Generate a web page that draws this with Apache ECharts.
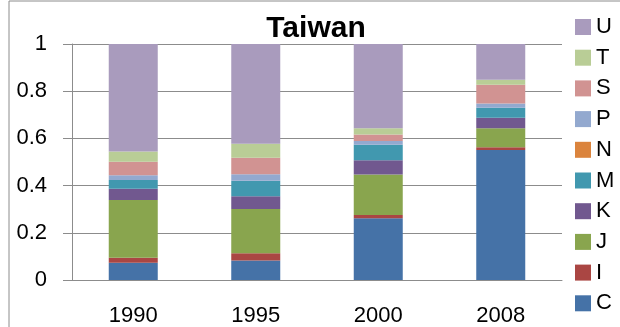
<!DOCTYPE html>
<html>
<head>
<meta charset="utf-8">
<script src="https://cdn.jsdelivr.net/npm/echarts@6/dist/echarts.min.js"></script>
<style>
  html, body { margin: 0; padding: 0; background: #fff; }
  #chart { width: 620px; height: 327px; }
</style>
</head>
<body>
<div id="chart"></div>
<script>
(function () {

    var years = ['1990', '1995', '2000', '2008'];

    // stacked shares, bottom to top
    var C = [0.073, 0.083, 0.262, 0.551];
    var I = [0.021, 0.030, 0.013, 0.011];
    var J = [0.245, 0.188, 0.172, 0.081];
    var K = [0.048, 0.054, 0.060, 0.044];
    var M = [0.037, 0.066, 0.066, 0.043];
    var N = [0, 0, 0, 0];
    var P = [0.020, 0.027, 0.016, 0.018];
    var S = [0.057, 0.070, 0.027, 0.079];
    var T = [0.044, 0.059, 0.027, 0.022];
    var U = [0.455, 0.423, 0.357, 0.151];

    var yTicks = [0, 0.2, 0.4, 0.6, 0.8, 1];

    var names = ['C', 'I', 'J', 'K', 'M', 'N', 'P', 'S', 'T', 'U'];
    var values = [C, I, J, K, M, N, P, S, T, U];
    var colors = ['#4572A7', '#AA4643', '#89A54E', '#71588F', '#4198AF',
        '#DB843D', '#93A9CF', '#D19392', '#B9CD96', '#A99BBD'];

    var font = 'Liberation Sans, Arial, sans-serif';
    var axisGray = '#8c8c8c';

    var series = names.map(function (name, i) {
        return {
            name: name,
            type: 'bar',
            stack: 'all',
            barWidth: '40%',
            data: values[i],
            itemStyle: { color: colors[i] }
        };
    });

    var myChart = echarts.init(document.getElementById('chart'));
    myChart.setOption({
        animation: false,
        title: {
            text: 'Taiwan',
            left: 311,
            top: 9,
            textAlign: 'center',
            textStyle: { fontFamily: font, fontSize: 30, fontWeight: 'bold', color: '#000' }
        },
        graphic: [{
            type: 'rect',
            shape: { x: 9, y: 1, width: 700, height: 400 },
            style: { fill: 'none', stroke: axisGray, lineWidth: 1 },
            silent: true
        }],
        legend: {
            orient: 'vertical',
            left: 570,
            top: 11,
            padding: 5,
            itemWidth: 16,
            itemHeight: 16,
            itemGap: 8.7,
            icon: 'rect',
            data: names.slice().reverse(),
            textStyle: { fontFamily: font, fontSize: 22, color: '#000' }
        },
        grid: { left: 72, right: 58, top: 44, bottom: 47 },
        xAxis: {
            type: 'category',
            data: years,
            axisLine: { lineStyle: { color: axisGray } },
            axisTick: { length: 9, lineStyle: { color: axisGray } },
            axisLabel: { fontFamily: font, fontSize: 22, color: '#000', margin: 25 }
        },
        yAxis: {
            type: 'value',
            min: yTicks[0],
            max: yTicks[yTicks.length - 1],
            interval: 0.2,
            axisLine: { show: true, lineStyle: { color: axisGray } },
            axisTick: { show: true, length: 9, lineStyle: { color: axisGray } },
            splitLine: { lineStyle: { color: axisGray } },
            axisLabel: { fontFamily: font, fontSize: 22, color: '#000', margin: 25 }
        },
        series: series
    });

})();
</script>
</body>
</html>
